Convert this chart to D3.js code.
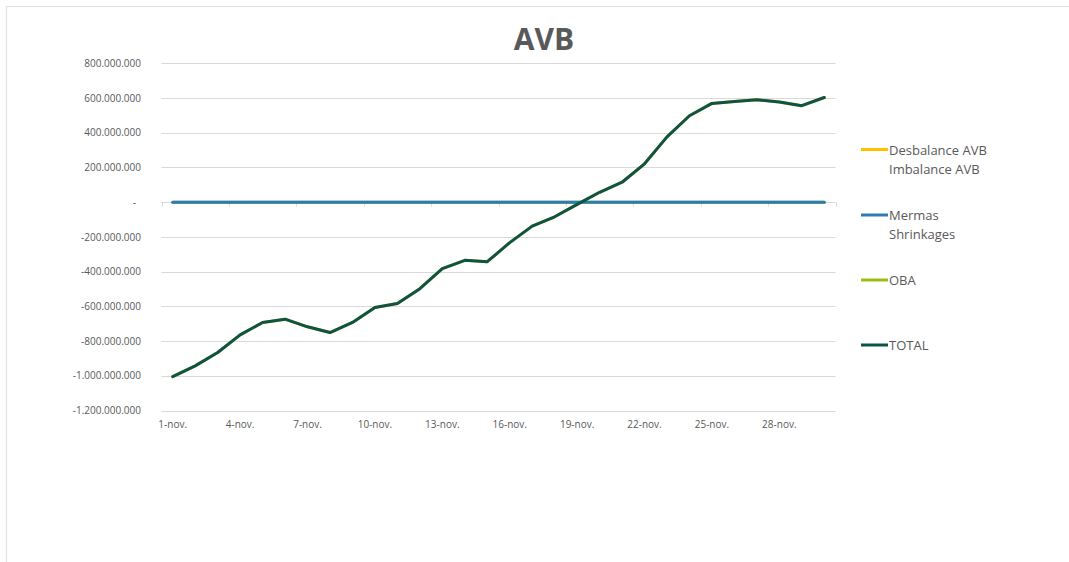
<!DOCTYPE html>
<html>
<head>
<meta charset="utf-8">
<script src="https://cdn.jsdelivr.net/npm/d3@7"></script>
<style>
  html, body { margin: 0; padding: 0; background: #fff; }
  svg { display: block; font-family: "Open Sans", sans-serif; }
</style>
</head>
<body>
<svg id="chart" width="1069" height="562"></svg>
<script>
// ---- Data ----
const days = [1,2,3,4,5,6,7,8,9,10,11,12,13,14,15,16,17,18,19,20,21,22,23,24,25,26,27,28,29,30];
const dayLabels = days.map(d => d + "-nov.");
const total = [-1005e6,-943e6,-866e6,-764e6,-693e6,-674e6,-718e6,-751e6,-693e6,-607e6,
               -584e6,-498e6,-383e6,-335e6,-343e6,-233e6,-138e6,-84e6,-13e6,57e6,
               115e6,221e6,376e6,498e6,569e6,580e6,590e6,577e6,556e6,603e6];
const desbalance = [-1005e6,-943e6,-866e6,-764e6,-693e6,-674e6,-718e6,-751e6,-693e6,-607e6,
               -584e6,-498e6,-383e6,-335e6,-343e6,-233e6,-138e6,-84e6,-13e6,57e6,
               115e6,221e6,376e6,498e6,569e6,580e6,590e6,577e6,556e6,603e6];
const mermas = [0,0,0,0,0,0,0,0,0,0,0,0,0,0,0,0,0,0,0,0,0,0,0,0,0,0,0,0,0,0];
const oba = [0,0,0,0,0,0,0,0,0,0,0,0,0,0,0,0,0,0,0,0,0,0,0,0,0,0,0,0,0,0];
const yTicks = [-1.2e9,-1e9,-8e8,-6e8,-4e8,-2e8,0,2e8,4e8,6e8,8e8];
const seriesNames = [["Desbalance AVB","Imbalance AVB"],["Mermas","Shrinkages"],["OBA"],["TOTAL"]];
const seriesColors = ["#ffc000","#2e7bb4","#9bbb15","#0a5448"];
const chartTitle = "AVB";

(function () {
// ---- Layout ----
const svg = d3.select("#chart");
const W = 1069, H = 562;
const pLeft = 161.5, pRight = 835.5, pTop = 63.3, pBottom = 410.5;

// chart border
svg.append("path")
  .attr("d", `M6.5,${H} L6.5,6.5 L${W},6.5`)
  .attr("fill", "none").attr("stroke", "#e3e3e3").attr("stroke-width", 1.2);

const x = d3.scaleBand().domain(days).range([pLeft, pRight]).padding(0);
const y = d3.scaleLinear().domain([-1.2e9, 8e8]).range([pBottom, pTop]);

// gridlines
svg.append("g").selectAll("line").data(yTicks.filter(v => v !== 0)).join("line")
  .attr("x1", pLeft).attr("x2", pRight)
  .attr("y1", d => Math.round(y(d)) + 0.5).attr("y2", d => Math.round(y(d)) + 0.5)
  .attr("stroke", "#d9d9d9").attr("stroke-width", 1);

// y tick labels
const fmt = v => v === 0 ? "-" : d3.format(",")(v).replace(/,/g, ".").replace("−", "-");
const yAxis = d3.axisLeft(y).tickValues(yTicks).tickSize(0).tickPadding(0).tickFormat(fmt);
const gy = svg.append("g").attr("transform", `translate(141,0)`).call(yAxis);
gy.select(".domain").remove();
gy.selectAll("text").attr("font-size", 10).attr("fill", "#595959")
  .attr("font-family", "Open Sans, sans-serif")
  .attr("dx", d => d === 0 ? -5 : 0);

// horizontal axis line at zero with tick marks
const y0 = Math.round(y(0)) + 0.5;
svg.append("line").attr("x1", pLeft).attr("x2", pRight).attr("y1", y0).attr("y2", y0)
  .attr("stroke", "#d9d9d9").attr("stroke-width", 1);
const tickPos = [];
days.forEach((d, i) => { if (i % 3 === 0) tickPos.push(x(d)); });
tickPos.push(pRight);
svg.append("g").selectAll("line").data(tickPos).join("line")
  .attr("x1", d => Math.round(d) + 0.5).attr("x2", d => Math.round(d) + 0.5)
  .attr("y1", y0).attr("y2", y0 + 4)
  .attr("stroke", "#d9d9d9").attr("stroke-width", 1);

// x labels at bottom
const xAxis = d3.axisBottom(x).tickValues(days.filter((d, i) => i % 3 === 0))
  .tickSize(0).tickPadding(0).tickFormat((d) => dayLabels[days.indexOf(d)]);
const gx = svg.append("g").attr("transform", `translate(0,${pBottom + 10})`).call(xAxis);
gx.select(".domain").remove();
gx.selectAll("text").attr("font-size", 10).attr("fill", "#595959")
  .attr("font-family", "Open Sans, sans-serif");

// lines
const line = d3.line().x((d, i) => x(days[i]) + x.bandwidth() / 2).y(d => y(d));
const drawOrder = [[oba, 2], [desbalance, 0], [mermas, 1], [total, 3]];
drawOrder.forEach(([vals, ci]) => {
  svg.append("path").datum(vals).attr("d", line)
    .attr("fill", "none").attr("stroke", seriesColors[ci]).attr("stroke-width", 3)
    .attr("stroke-linejoin", "round").attr("stroke-linecap", "round");
});

// title
svg.append("text").attr("x", 544).attr("y", 50).attr("text-anchor", "middle")
  .attr("font-size", 30).attr("font-weight", "bold").attr("fill", "#595959")
  .attr("font-family", "Open Sans, sans-serif").text(chartTitle);

// legend
const legendY = [149.5, 215, 280, 345];
seriesNames.forEach((names, i) => {
  const g = svg.append("g");
  g.append("line").attr("x1", 861).attr("x2", 888).attr("y1", legendY[i]).attr("y2", legendY[i])
    .attr("stroke", seriesColors[i]).attr("stroke-width", 3);
  names.forEach((t, j) => {
    g.append("text").attr("x", 889).attr("y", legendY[i] + 5 + j * 19)
      .attr("font-size", 13).attr("fill", "#595959")
      .attr("font-family", "Open Sans, sans-serif").text(t);
  });
});
})();
</script>
</body>
</html>
